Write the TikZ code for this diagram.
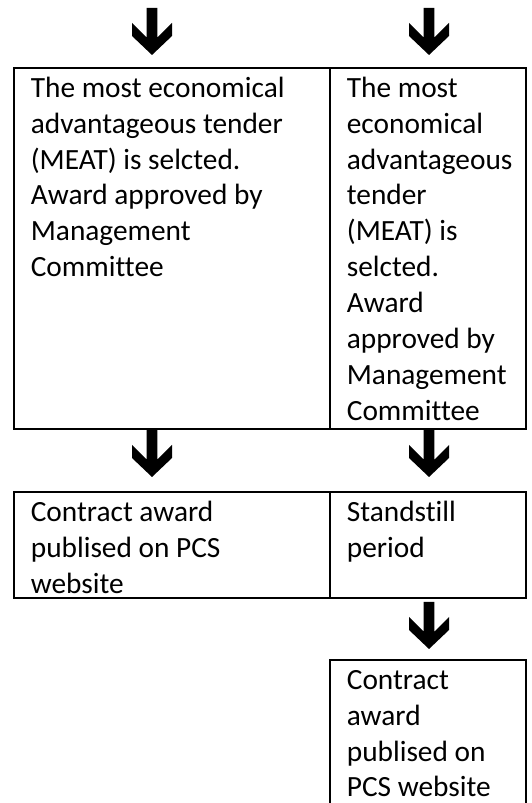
\documentclass[tikz,border=0pt]{standalone}
\usepackage{fontspec}
\setmainfont{Carlito}[Ligatures=NoCommon]
\usetikzlibrary{positioning}

\begin{document}
\begin{tikzpicture}[
    cell/.style={draw,line width=1.1pt,inner sep=0pt,outer sep=0pt,anchor=north west},
    txt/.style={anchor=north west,align=left,inner sep=0pt,
      font=\fontsize{16.7pt}{20.4pt}\selectfont},
    fatdown/.style={to path={(\tikztostart) ++(-0.106,0) -- ++(0.212,0)
      -- ++(0,-0.594) -- ++(0.294,0.294) -- ++(0,-0.26) -- ++(-0.40,-0.38)
      -- ++(-0.40,0.38) -- ++(0,0.26) -- ++(0.294,-0.294) -- cycle}}]
  \clip (0,0) rectangle (10.62,16.06);

  % Award decision
  \node[cell,minimum width=6.32cm,minimum height=7.22cm] (meatL) at (0.28,14.70) {};
  \node[cell,minimum width=3.92cm,minimum height=7.22cm] (meatR) at (meatL.north east) {};
  \node[txt] (meatLtext) at ([xshift=0.33cm,yshift=-0.08cm]meatL.north west)
    {\strut The most economical\\advantageous tender\\(MEAT) is selcted.\\Award approved by\\Management\\Committee};
  \node[txt] (meatRtext) at ([xshift=0.33cm,yshift=-0.08cm]meatR.north west)
    {\strut The most\\economical\\advantageous\\tender\\(MEAT) is\\selcted.\\Award\\approved by\\Management\\Committee};

  % Publication / standstill
  \node[cell,minimum width=6.32cm,minimum height=2.12cm] (pubL) at (0.28,6.22) {};
  \node[cell,minimum width=3.92cm,minimum height=2.12cm] (stillR) at (pubL.north east) {};
  \node[txt] (pubLtext) at ([xshift=0.33cm,yshift=-0.08cm]pubL.north west)
    {\strut Contract award\\publised on PCS\\website};
  \node[txt] (stillRtext) at ([xshift=0.33cm,yshift=-0.08cm]stillR.north west)
    {\strut Standstill\\period};

  % Final publication
  \node[cell,minimum width=3.92cm,minimum height=3.2cm] (pubR) at (6.60,2.86) {};
  \node[txt] (pubRtext) at ([xshift=0.33cm,yshift=-0.08cm]pubR.north west)
    {\strut Contract\\award\\publised on\\PCS website};

  % Block arrows
  \coordinate (inL) at (3.04,15.90);
  \coordinate (inR) at (8.58,15.90);
  \fill[fatdown] (inL) to (meatL.north -| inL);
  \fill[fatdown] (inR) to (meatR.north -| inR);
  \fill[fatdown] ([yshift=-0.02cm]meatL.south -| inL) to (pubL.north -| inL);
  \fill[fatdown] ([yshift=-0.02cm]meatR.south -| inR) to (stillR.north -| inR);
  \fill[fatdown] ([yshift=-0.08cm]stillR.south -| inR) to (pubR.north -| inR);
\end{tikzpicture}
\end{document}
